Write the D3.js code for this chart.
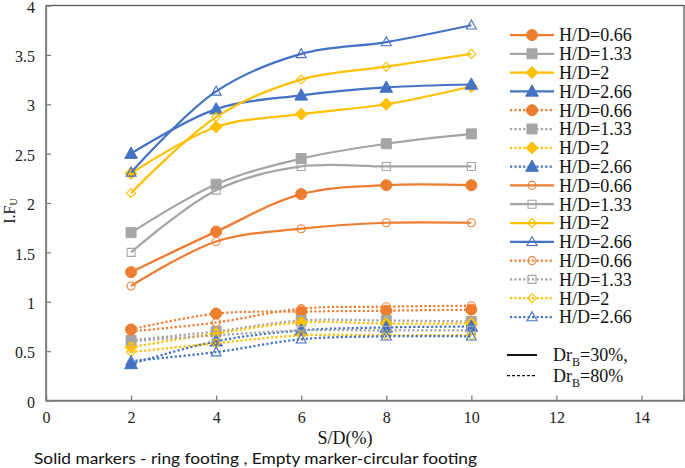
<!DOCTYPE html>
<html><head><meta charset="utf-8">
<script src="https://cdn.jsdelivr.net/npm/d3@7"></script>
<style>body{margin:0;background:#fff}svg{display:block}</style>
</head><body>
<svg id="c" width="685" height="468"></svg>
<script>
const sd = [2, 4, 6, 8, 10];
const hdLabels = ["H/D=0.66", "H/D=1.33", "H/D=2", "H/D=2.66"];
// Dr_B = 30%, ring footing (solid markers)
const ring30 = [
  [1.30, 1.71, 2.09, 2.18, 2.18],
  [1.70, 2.19, 2.45, 2.60, 2.70],
  [2.30, 2.77, 2.90, 3.00, 3.18],
  [2.50, 2.95, 3.09, 3.17, 3.20]
];
// Dr_B = 80%, ring footing (solid markers)
const ring80 = [
  [0.72, 0.88, 0.90, 0.91, 0.92],
  [0.61, 0.70, 0.81, 0.81, 0.80],
  [0.54, 0.68, 0.79, 0.78, 0.78],
  [0.37, 0.60, 0.71, 0.74, 0.75]
];
// Dr_B = 30%, circular footing (empty markers)
const circ30 = [
  [1.16, 1.61, 1.74, 1.80, 1.80],
  [1.50, 2.13, 2.37, 2.37, 2.37],
  [2.10, 2.87, 3.25, 3.38, 3.51],
  [2.31, 3.13, 3.51, 3.63, 3.80]
];
// Dr_B = 80%, circular footing (empty markers)
const circ80 = [
  [0.70, 0.79, 0.93, 0.95, 0.96],
  [0.60, 0.66, 0.71, 0.71, 0.71],
  [0.49, 0.58, 0.66, 0.66, 0.66],
  [0.40, 0.49, 0.62, 0.65, 0.65]
];
const xTicks = [0, 2, 4, 6, 8, 10, 12, 14];
const yTicks = [0, 0.5, 1, 1.5, 2, 2.5, 3, 3.5, 4];
const colors = ["#ED7D31", "#A5A5A5", "#FFC000", "#4472C4"];
const shapes = ["circle", "square", "diamond", "triangle"];

const svg = d3.select("#c");
const L = 46, R = 684, T = 5.5, B = 400.5;
const x = d3.scaleLinear().domain([0, 15]).range([L, R]);
const y = d3.scaleLinear().domain([0, 4]).range([B, T]);

const serif = "'Liberation Serif','Times New Roman',serif";

// frame
svg.append("rect").attr("x", L).attr("y", T).attr("width", R - L).attr("height", B - T)
  .attr("fill", "none").attr("stroke", "#595959").attr("stroke-width", 1.3);

// axes
const xAxis = d3.axisBottom(x).tickValues(xTicks).tickSize(-5).tickPadding(11).tickFormat(d3.format("d"));
const gx = svg.append("g").attr("transform", `translate(0,${B})`).call(xAxis);
const yAxis = d3.axisLeft(y).tickValues(yTicks).tickSize(-5).tickPadding(11).tickFormat(d => String(d));
const gy = svg.append("g").attr("transform", `translate(${L},0)`).call(yAxis);
[gx, gy].forEach(g => {
  g.select(".domain").attr("stroke", "#808080").attr("stroke-width", 1.3);
  g.selectAll(".tick line").attr("stroke", "#808080").attr("stroke-width", 1.3);
  g.selectAll(".tick text").attr("font-family", serif).attr("font-size", 16).attr("fill", "#222");
});
gy.selectAll(".tick text").attr("dy", "0.42em");

function markerPath(shape, r) {
  if (shape === "circle") { const p = d3.path(); p.moveTo(r, 0); p.arc(0, 0, r, 0, 2 * Math.PI); p.closePath(); return p.toString(); }
  if (shape === "square") return `M${-r},${-r}H${r}V${r}H${-r}Z`;
  if (shape === "diamond") return `M0,${-r}L${r},0L0,${r}L${-r},0Z`;
  if (shape === "triangle") return `M0,${-r * 1.05}L${r},${r * 0.75}L${-r},${r * 0.75}Z`;
}
const solidR = { circle: 5.5, square: 5, diamond: 6, triangle: 6.3 };
const emptyR = { circle: 4, square: 4, diamond: 4.5, triangle: 5 };

const line = d3.line().x((d, i) => x(sd[i])).y(d => y(d)).curve(d3.curveCatmullRom.alpha(0.5));

const groups = [
  { data: ring30, dash: null, filled: true },
  { data: ring80, dash: "2.2,2.2", filled: true },
  { data: circ30, dash: null, filled: false },
  { data: circ80, dash: "2.2,2.2", filled: false }
];

function drawMarker(g, shape, color, filled, cx, cy) {
  const r = filled ? solidR[shape] : emptyR[shape];
  g.append("path").attr("d", markerPath(shape, r))
    .attr("transform", `translate(${cx},${cy})`)
    .attr("fill", filled ? color : "none")
    .attr("stroke", color).attr("stroke-width", filled ? 1 : 1.1);
}

const plot = svg.append("g");
groups.forEach(gr => {
  gr.data.forEach((vals, k) => {
    const g = plot.append("g");
    g.append("path").attr("d", line(vals)).attr("fill", "none")
      .attr("stroke", colors[k]).attr("stroke-width", 2.25)
      .attr("stroke-dasharray", gr.dash);
    vals.forEach((v, i) => drawMarker(g, shapes[k], colors[k], gr.filled, x(sd[i]), y(v)));
  });
});

// legend
const lg = svg.append("g");
let row = 0;
groups.forEach(gr => {
  gr.data.forEach((vals, k) => {
    const cy = 35 + row * 18.8;
    lg.append("line").attr("x1", 510).attr("x2", 554).attr("y1", cy).attr("y2", cy)
      .attr("stroke", colors[k]).attr("stroke-width", 2.25).attr("stroke-dasharray", gr.dash);
    drawMarker(lg, shapes[k], colors[k], gr.filled, 532, cy);
    lg.append("text").attr("x", 559).attr("y", cy).attr("dy", "0.35em")
      .attr("font-family", serif).attr("font-size", 18).attr("fill", "#111").text(hdLabels[k]);
    row++;
  });
});
const drLabels = [["30%,", null], ["80%", "3,2"]];
drLabels.forEach((d, i) => {
  const cy = 355 + i * 20.7;
  lg.append("line").attr("x1", 507).attr("x2", 537).attr("y1", cy).attr("y2", cy)
    .attr("stroke", "#111").attr("stroke-width", i === 0 ? 2 : 1.3).attr("stroke-dasharray", d[1]);
  const t = lg.append("text").attr("x", 553).attr("y", cy).attr("dy", "0.35em")
    .attr("font-family", serif).attr("font-size", 18).attr("fill", "#111");
  t.append("tspan").text("Dr");
  t.append("tspan").attr("font-size", 12).attr("dy", 5).text("B");
  t.append("tspan").attr("dy", -5).text("=" + d[0]);
});

// axis titles
svg.append("text").attr("x", 345).attr("y", 444).attr("text-anchor", "middle")
  .attr("font-family", serif).attr("font-size", 18).attr("fill", "#111").text("S/D(%)");
const yt = svg.append("text").attr("transform", "translate(15,211) rotate(-90)").attr("text-anchor", "middle")
  .attr("font-family", serif).attr("font-size", 16).attr("fill", "#111");
yt.append("tspan").text("I.F");
yt.append("tspan").attr("font-size", 10).attr("dy", 2).text("U");

svg.append("text").attr("x", 34).attr("y", 464)
  .attr("font-family", "Lato, 'Open Sans', sans-serif").attr("font-size", 16).attr("fill", "#111")
  .attr("textLength", 443).attr("lengthAdjust", "spacingAndGlyphs")
  .text("Solid markers - ring footing , Empty marker-circular footing");
</script>
</body></html>
